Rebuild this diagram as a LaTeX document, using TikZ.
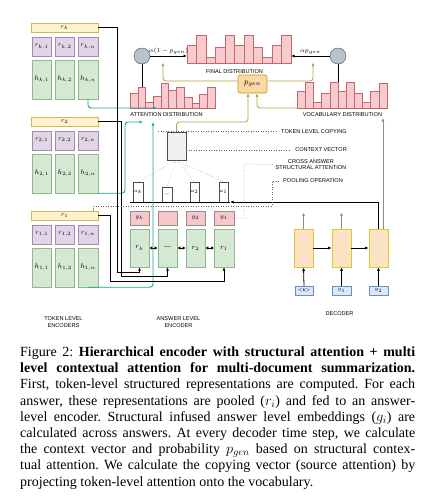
\documentclass[tikz,border=0pt]{standalone}
\usepackage{fontspec}
\setmainfont{Liberation Serif}
\newfontfamily\labfont{Liberation Sans}
\usetikzlibrary{arrows.meta}
\frenchspacing
\definecolor{hdrfill}{HTML}{FFF2CC}\definecolor{hdrdraw}{HTML}{D6B656}
\definecolor{pfill}{HTML}{E1D5E7}\definecolor{pdraw}{HTML}{A08AB0}
\definecolor{gfill}{HTML}{D5E8D4}\definecolor{gdraw}{HTML}{8FB98A}
\definecolor{pinkfill}{HTML}{F6C8CB}\definecolor{pinkdraw}{HTML}{9A8A8A}
\definecolor{barfill}{HTML}{F7CACD}\definecolor{bardraw}{HTML}{C8646C}
\definecolor{tealc}{HTML}{1BA38C}
\definecolor{olivec}{HTML}{A9A63C}
\definecolor{decfill}{HTML}{FCE3C6}\definecolor{decdraw}{HTML}{D8CC2C}
\definecolor{infill}{HTML}{DAE8FC}\definecolor{indraw}{HTML}{6C8EBF}
\definecolor{circfill}{HTML}{B8C3CE}
\definecolor{pgfill}{HTML}{FAD9A4}\definecolor{pgdraw}{HTML}{D0901A}
\begin{document}
\begin{tikzpicture}[x=1pt,y=-1pt,
  hdr/.style={draw=hdrdraw,fill=hdrfill,minimum width=67pt,minimum height=9.5pt,inner sep=0,font=\fontsize{6.5}{7}\selectfont},
  pc/.style={draw=pdraw,fill=pfill,minimum width=19.5pt,minimum height=19pt,inner sep=0,font=\fontsize{6}{7}\selectfont},
  gc/.style={draw=gdraw,fill=gfill,minimum width=19.5pt,minimum height=39pt,inner sep=0,font=\fontsize{7}{8}\selectfont},
  gb/.style={draw=pinkdraw,fill=pinkfill,minimum width=19.5pt,minimum height=14pt,inner sep=0,font=\fontsize{6.5}{7}\selectfont},
  eb/.style={draw=gdraw,fill=gfill,minimum width=19.5pt,minimum height=38pt,inner sep=0,font=\fontsize{7}{8}\selectfont},
  wb/.style={draw=black!70,fill=white,minimum width=9.5pt,minimum height=20pt,inner sep=0,font=\fontsize{4.5}{5}\selectfont},
  dec/.style={draw=decdraw,fill=decfill,minimum width=19pt,minimum height=38pt,inner sep=0,line width=0.7pt},
  inb/.style={draw=indraw,fill=infill,minimum width=18.5pt,minimum height=9pt,inner sep=0,font=\fontsize{5.5}{6}\selectfont},
  circ/.style={circle,draw=black!70,fill=circfill,minimum size=16pt,inner sep=0},
  bar/.style={draw=bardraw,fill=barfill,line width=0.4pt},
  lab/.style={font=\labfont\fontsize{5.6}{5.8}\selectfont,inner sep=0,align=center},
  blk/.style={draw=black,line width=0.8pt},
  tl/.style={draw=tealc,line width=0.9pt,rounded corners=3pt},
  ol/.style={draw=olivec,line width=0.8pt,rounded corners=3pt},
  dl/.style={draw=black!60,dotted,line width=0.5pt},
  arr/.style={-{Latex[length=3.5pt,width=3pt]}}
]
\useasboundingbox (0,0) rectangle (434,498);

% ---------- token level encoders ----------
\foreach \B/\T in {k/23,2/117,1/211}{
  \node[hdr] (hdr\B) at (64.5,\T+4.75) {$r_{\B}$};
  \node[pc] (r\B1) at (41.75,\T+23.5) {$r_{\B,1}$};
  \node[pc] (r\B2) at (64.75,\T+23.5) {$r_{\B,2}$};
  \node[pc] (r\B n) at (88,\T+23.5) {$r_{\B,n}$};
  \node[gc] (h\B1) at (41.75,\T+56.5) {$h_{\B,1}$};
  \node[gc] (h\B2) at (64.75,\T+56.5) {$h_{\B,2}$};
  \node[gc] (h\B n) at (88,\T+56.5) {$h_{\B,n}$};
}
\node[lab] (tle) at (63.5,322) {TOKEN LEVEL\\[2pt]ENCODERS};

% ---------- answer level encoder ----------
\node[gb] (gk) at (139.5,218) {$g_k$};
\node[gb] (gd) at (167.5,218) {};
\node[gb] (g2) at (195.5,218) {$g_2$};
\node[gb] (g1) at (224,218) {$g_1$};
\node[eb] (ek) at (139.5,248) {$r_k$};
\node[eb] (ed) at (167.5,248) {---};
\node[eb] (e2) at (195.5,248) {$r_2$};
\node[eb] (e1) at (224,248) {$r_1$};
\foreach \a/\b in {ek/ed,ed/e2,e2/e1}
  \draw[line width=0.8pt,{Latex[length=3pt,width=3.5pt]}-{Latex[length=3pt,width=3.5pt]}] (\a.east) -- (\b.west);
\node[lab] (ale) at (178.5,322) {ANSWER LEVEL\\[2pt]ENCODER};

% ---------- structural attention nodes ----------
\node[wb] (wk) at (138,192) {$a_k$};
\node[wb,minimum height=15pt] (wd) at (167,194.5) {---};
\node[wb] (w2) at (194.5,192) {$a_2$};
\node[wb] (w1) at (223.5,192) {$a_1$};
\coordinate (bl0) at (130,202);
\coordinate (bl1) at (230,202);
\draw[blk] (bl0) -- (bl1);

% context vector
\node[draw=black!70,fill=black!6,minimum width=19pt,minimum height=28pt,inner sep=0] (cv) at (176.5,146) {};
\foreach \w in {wk,wd,w2,w1} \draw[dl,line width=0.4pt] (cv.south) -- (\w.north);

% ---------- distributions ----------
\foreach \hh [count=\i from 0] in {15,21,6,12,25,18,21,11,5,14,21}
  \draw[bar] (130+\i*7.73,108) rectangle ++(7.73,-\hh);
\node[lab] (adl) at (166.5,114.5) {ATTENTION DISTRIBUTION};
\foreach \hh [count=\i from 0] in {18,28,6,16,28,18,28,16,6,18,28}
  \draw[bar] (187+\i*9.45,63) rectangle ++(9.45,-\hh);
\node[lab] (fdl) at (234.5,71.5) {FINAL DISTRIBUTION};
\foreach \hh [count=\i from 0] in {17,26,6,15,26,17,26,15,6,17,25}
  \draw[bar] (297+\i*8.18,108) rectangle ++(8.18,-\hh);
\node[lab] (vdl) at (342.5,114.5) {VOCABULARY DISTRIBUTION};

% circles
\node[circ] (c1) at (142,56) {};
\node[circ] (c2) at (338,56) {};
\coordinate (fdL) at (187,56);
\coordinate (fdR) at (291,56);
\coordinate (adT) at (142,87);
\coordinate (vdT) at (338,82);
\draw[line width=0.8pt] (c1.south) -- (adT);
\draw[line width=0.8pt] (c2.south) -- (vdT);
\draw[line width=0.8pt,arr] (c1.east) -- node[above=1.5pt,font=\fontsize{6}{7}\selectfont,inner sep=0] {$\alpha(1-p_{gen})$} (fdL);
\draw[line width=0.8pt,arr] (c2.west) -- node[above=1.5pt,font=\fontsize{6}{7}\selectfont,inner sep=0] {$\alpha p_{gen}$} (fdR);

% p_gen
\node[draw=pgdraw,fill=pgfill,rounded corners=2pt,minimum width=29pt,minimum height=18pt,inner sep=0,line width=0.6pt,font=\fontsize{8}{9}\selectfont] (pg) at (252.5,84) {$p_{gen}$};
\coordinate (pgL) at (163,62.5);
\coordinate (pgR) at (313,62.5);
\draw[ol,arr] ([yshift=3pt]pg.west) -| (pgL);
\draw[ol,arr] ([yshift=3pt]pg.east) -| (pgR);
\coordinate (cvp) at (248,122);
\draw[ol,arr] (cv.north) |- (cvp) -- ([xshift=-4.5pt]pg.south);
\coordinate (vdB) at (297,108);
\draw[ol,arr] (vdB) -| ([xshift=4.5pt]pg.south);

% ---------- teal copying paths ----------
\coordinate (ta1) at (157,108);
\coordinate (ta2) at (143,122);
\coordinate (ta3) at (153,122);
\draw[tl,arr] (hkn.south) |- (ta1);
\draw[tl,arr] (h2n.south east) -| (125,140) |- (ta2);
\draw[tl,arr] (h1n.south) -| (ta3);

% ---------- pooled r's into answer encoder ----------
\draw[blk,arr] (hdrk.east) -| (117,272) -| (ek.south);
\draw[blk,arr] (hdr2.east) -| (121,276) -| (ed.south);
\draw[blk,arr] (hdr1.east) -| (110,281) -| (e1.south);

% ---------- decoder ----------
\node[dec] (d1) at (303.5,248) {};
\node[dec] (d2) at (341.5,248) {};
\node[dec] (d3) at (378.5,248) {};
\node[inb] (i1) at (304,290.5) {\textbf{$<$s$>$}};
\node[inb] (i2) at (341.5,290.5) {$y_1$};
\node[inb] (i3) at (378.5,290.5) {$y_2$};
\draw[line width=0.8pt,arr] (d1.east) -- (d2.west);
\draw[line width=0.8pt,arr] (d2.east) -- (d3.west);
\foreach \i/\d in {i1/d1,i2/d2,i3/d3} \draw[line width=0.8pt,arr] (\i.north) -- (\d.south);
\draw[black!45,line width=0.6pt,arr] (d1.north) -- ++(0,-16);
\draw[black!45,line width=0.6pt,arr] (d2.north) -- ++(0,-16);
\coordinate (vdU) at (383,118);
\draw[black!45,line width=0.6pt,arr] ([xshift=4.5pt]d3.north) -- (vdU);
\draw[blk,arr] ([xshift=-0.5pt]d3.north) |- (bl1);
\node[lab] (decl) at (339.5,314) {DECODER};

% ---------- dotted label leaders ----------
\node[lab,anchor=east] (tlc) at (347,131.5) {TOKEN LEVEL COPYING};
\draw[dl] (158,131.5) -- ([xshift=-5pt]tlc.west);
\node[lab,anchor=east] (cvl) at (347,150) {CONTEXT VECTOR};
\draw[dl] (cv.east |- cvl) -- ([xshift=-5pt]cvl.west);
\node[lab,align=center] (cal) at (311,164.5) {CROSS ANSWER\\STRUCTURAL ATTENTION};
\draw[dl] (g1.east) -| (244,164) -- ([xshift=-2pt]cal.west);
\node[lab] (pol) at (313,181) {POOLING OPERATION};
\draw[dl] (hdr1.north -| 93,0) |- (272,206) |- ([xshift=-4pt]pol.west);

% ---------- caption ----------
\node[anchor=north west,inner sep=0,text width=395pt,align=justify,font=\fontsize{14}{16.2}\selectfont] (cap) at (20,346.5) {Figure 2: \textbf{Hierarchical encoder with structural attention + multi}\linebreak
\textbf{level contextual attention for multi-document summarization.}\linebreak
First, token-level structured representations are computed. For each\linebreak
answer, these representations are pooled ($r_i$) and fed to an answer-\linebreak
level encoder. Structural infused answer level embeddings ($g_i$) are\linebreak
calculated across answers. At every decoder time step, we calculate\linebreak
the context vector and probability $p_{gen}$ based on structural contex-\linebreak
tual attention. We calculate the copying vector (source attention) by\linebreak
projecting token-level attention onto the vocabulary.};
\end{tikzpicture}
\end{document}
